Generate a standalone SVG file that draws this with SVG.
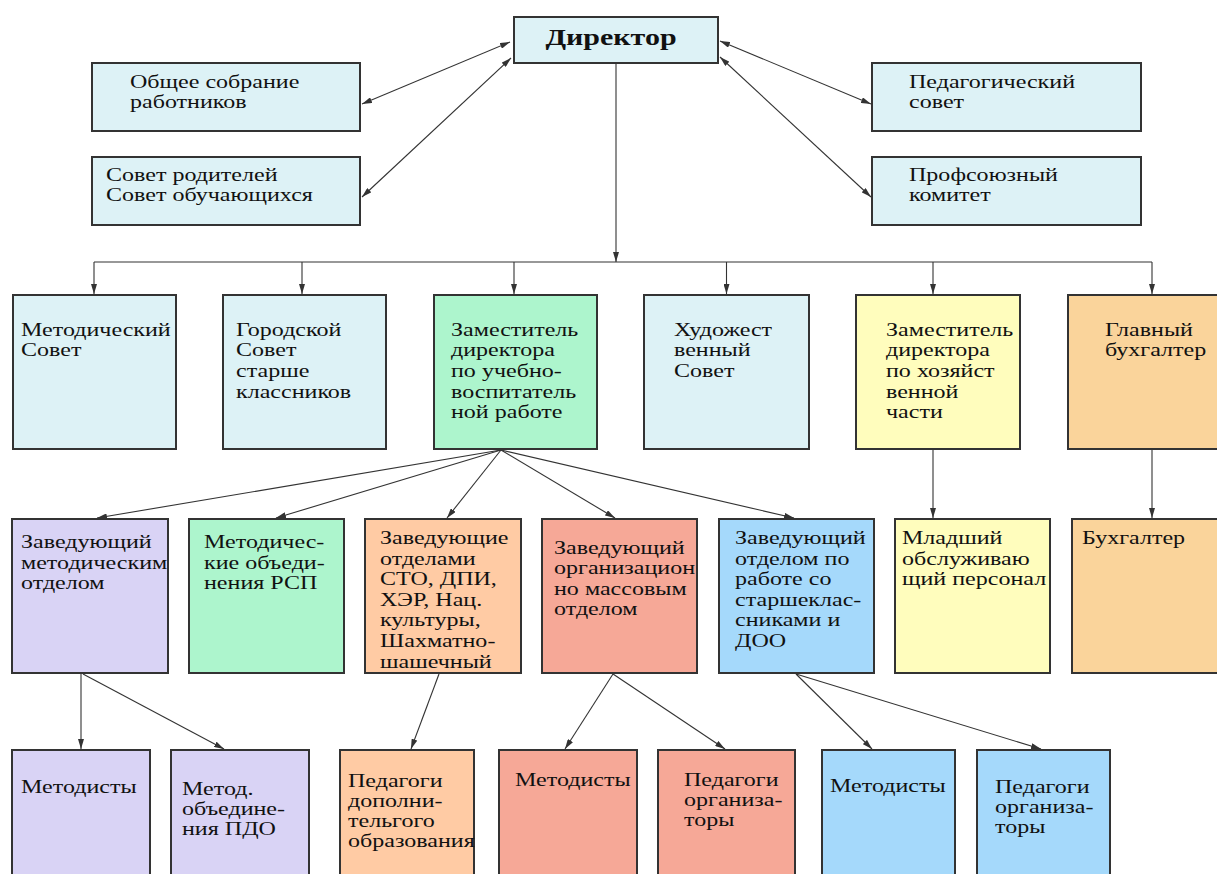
<svg xmlns="http://www.w3.org/2000/svg" width="1217" height="874" viewBox="0 0 1217 874">
<defs>
<style>
.b{stroke:#333;stroke-width:2}
.c0{fill:#DDF2F6}.cg{fill:#ADF5CD}.cl{fill:#D9D3F5}.cp{fill:#FFCBA4}.cs{fill:#F6A897}.cb{fill:#A5D9FB}.cy{fill:#FFFDBD}.co{fill:#FAD49B}
.t{font-family:"Liberation Serif","Times New Roman",serif;font-size:18.5px;fill:#111}
.h{font-family:"Liberation Serif","Times New Roman",serif;font-size:24px;font-weight:bold;fill:#111}
.l{stroke:#333;stroke-width:1.1;fill:none}
</style>
<marker id="ar" viewBox="0 0 10 6" refX="10" refY="3" markerWidth="10" markerHeight="6" markerUnits="userSpaceOnUse" orient="auto-start-reverse">
<path d="M0,0 L10,3 L0,6 z" fill="#333"/>
</marker>
</defs>
<rect width="1217" height="874" fill="#fff"/>

<g id="connectors">
<line class="l" x1="510" y1="42" x2="362" y2="104" marker-start="url(#ar)" marker-end="url(#ar)"/>
<line class="l" x1="511" y1="58" x2="362" y2="197" marker-start="url(#ar)" marker-end="url(#ar)"/>
<line class="l" x1="720" y1="41" x2="871" y2="104" marker-start="url(#ar)" marker-end="url(#ar)"/>
<line class="l" x1="720" y1="57" x2="871" y2="197" marker-start="url(#ar)" marker-end="url(#ar)"/>
<line class="l" x1="616" y1="64" x2="616" y2="262" marker-end="url(#ar)"/>
<line class="l" x1="94" y1="262" x2="1152" y2="262"/>
<line class="l" x1="94" y1="262" x2="94" y2="294" marker-end="url(#ar)"/>
<line class="l" x1="302" y1="262" x2="302" y2="294" marker-end="url(#ar)"/>
<line class="l" x1="514" y1="262" x2="514" y2="294" marker-end="url(#ar)"/>
<line class="l" x1="726.5" y1="262" x2="726.5" y2="294" marker-end="url(#ar)"/>
<line class="l" x1="933" y1="262" x2="933" y2="294" marker-end="url(#ar)"/>
<line class="l" x1="1152" y1="262" x2="1152" y2="294" marker-end="url(#ar)"/>
<line class="l" x1="501" y1="450" x2="97" y2="518" marker-end="url(#ar)"/>
<line class="l" x1="501" y1="450" x2="276" y2="518" marker-end="url(#ar)"/>
<line class="l" x1="501" y1="450" x2="447" y2="518" marker-end="url(#ar)"/>
<line class="l" x1="501" y1="450" x2="615" y2="518" marker-end="url(#ar)"/>
<line class="l" x1="501" y1="450" x2="794" y2="518" marker-end="url(#ar)"/>
<line class="l" x1="933" y1="450" x2="933" y2="518" marker-end="url(#ar)"/>
<line class="l" x1="1152" y1="450" x2="1152" y2="518" marker-end="url(#ar)"/>
<line class="l" x1="81" y1="674" x2="81" y2="749" marker-end="url(#ar)"/>
<line class="l" x1="83" y1="674" x2="224" y2="749" marker-end="url(#ar)"/>
<line class="l" x1="439" y1="674" x2="411" y2="749" marker-end="url(#ar)"/>
<line class="l" x1="613" y1="674" x2="565" y2="749" marker-end="url(#ar)"/>
<line class="l" x1="613" y1="674" x2="725" y2="749" marker-end="url(#ar)"/>
<line class="l" x1="796" y1="674" x2="872" y2="749" marker-end="url(#ar)"/>
<line class="l" x1="796" y1="674" x2="1041" y2="749" marker-end="url(#ar)"/>
</g>

<g id="director"><rect class="b c0" x="514" y="17" width="204" height="46"/>
<text class="h" text-anchor="middle" transform="translate(611,45) scale(1.25,1)">Директор</text></g>

<g id="obshchee"><rect class="b c0" x="92" y="63" width="268" height="68"/>
<text class="t" transform="translate(130,87.5) scale(1.3,1)"><tspan x="0" y="0">Общее собрание</tspan><tspan x="0" y="20.5">работников</tspan></text></g>

<g id="sovet-rod"><rect class="b c0" x="92" y="157" width="268" height="68"/>
<text class="t" transform="translate(106,181) scale(1.3,1)"><tspan x="0" y="0">Совет родителей</tspan><tspan x="0" y="20.5">Совет обучающихся</tspan></text></g>

<g id="ped-sovet"><rect class="b c0" x="872" y="63" width="269" height="68"/>
<text class="t" transform="translate(909,87.5) scale(1.3,1)"><tspan x="0" y="0">Педагогический</tspan><tspan x="0" y="20.5">совет</tspan></text></g>

<g id="profkom"><rect class="b c0" x="872" y="157" width="269" height="68"/>
<text class="t" transform="translate(909,181) scale(1.3,1)"><tspan x="0" y="0">Профсоюзный</tspan><tspan x="0" y="20.5">комитет</tspan></text></g>

<g id="metod-sovet"><rect class="b c0" x="13" y="295" width="163" height="154"/>
<text class="t" transform="translate(21,335.5) scale(1.3,1)"><tspan x="0" y="0">Методический</tspan><tspan x="0" y="20.7">Совет</tspan></text></g>

<g id="gor-sovet"><rect class="b c0" x="223" y="295" width="163" height="154"/>
<text class="t" transform="translate(236,335.5) scale(1.3,1)"><tspan x="0" y="0">Городской</tspan><tspan x="0" y="20.7">Совет</tspan><tspan x="0" y="41.4">старше</tspan><tspan x="0" y="62.1">классников</tspan></text></g>

<g id="zam-uvr"><rect class="b cg" x="434" y="295" width="163" height="154"/>
<text class="t" transform="translate(451,335.5) scale(1.3,1)"><tspan x="0" y="0">Заместитель</tspan><tspan x="0" y="20.7">директора</tspan><tspan x="0" y="41.4">по учебно-</tspan><tspan x="0" y="62.1">воспитатель</tspan><tspan x="0" y="82.8">ной работе</tspan></text></g>

<g id="hud-sovet"><rect class="b c0" x="644" y="295" width="165" height="154"/>
<text class="t" transform="translate(674,335.5) scale(1.3,1)"><tspan x="0" y="0">Художест</tspan><tspan x="0" y="20.7">венный</tspan><tspan x="0" y="41.4">Совет</tspan></text></g>

<g id="zam-ahch"><rect class="b cy" x="856" y="295" width="164" height="154"/>
<text class="t" transform="translate(886,335.5) scale(1.3,1)"><tspan x="0" y="0">Заместитель</tspan><tspan x="0" y="20.7">директора</tspan><tspan x="0" y="41.4">по хозяйст</tspan><tspan x="0" y="62.1">венной</tspan><tspan x="0" y="82.8">части</tspan></text></g>

<g id="glav-buh"><rect class="b co" x="1068" y="295" width="164" height="154"/>
<text class="t" transform="translate(1105,335.5) scale(1.3,1)"><tspan x="0" y="0">Главный</tspan><tspan x="0" y="20.7">бухгалтер</tspan></text></g>

<g id="zav-metod"><rect class="b cl" x="12" y="519" width="156" height="154"/>
<text class="t" transform="translate(21,548) scale(1.3,1)"><tspan x="0" y="0">Заведующий</tspan><tspan x="0" y="20.7">методическим</tspan><tspan x="0" y="41.4">отделом</tspan></text></g>

<g id="mo-rsp"><rect class="b cg" x="189" y="519" width="155" height="154"/>
<text class="t" transform="translate(204,548) scale(1.3,1)"><tspan x="0" y="0">Методичес-</tspan><tspan x="0" y="20.7">кие объеди-</tspan><tspan x="0" y="41.4">нения РСП</tspan></text></g>

<g id="zav-otdelami"><rect class="b cp" x="365" y="519" width="156" height="154"/>
<text class="t" transform="translate(380,544) scale(1.3,1)"><tspan x="0" y="0">Заведующие</tspan><tspan x="0" y="20.6">отделами</tspan><tspan x="0" y="41.2">СТО, ДПИ,</tspan><tspan x="0" y="61.8">ХЭР, Нац.</tspan><tspan x="0" y="82.4">культуры,</tspan><tspan x="0" y="103">Шахматно-</tspan><tspan x="0" y="123.6">шашечный</tspan></text></g>

<g id="zav-orgmass"><rect class="b cs" x="542" y="519" width="155" height="154"/>
<text class="t" transform="translate(554,554) scale(1.3,1)"><tspan x="0" y="0">Заведующий</tspan><tspan x="0" y="20.4">организацион</tspan><tspan x="0" y="40.8">но массовым</tspan><tspan x="0" y="61.2">отделом</tspan></text></g>

<g id="zav-starsh"><rect class="b cb" x="719" y="519" width="155" height="154"/>
<text class="t" transform="translate(735,544) scale(1.3,1)"><tspan x="0" y="0">Заведующий</tspan><tspan x="0" y="20.6">отделом по</tspan><tspan x="0" y="41.2">работе со</tspan><tspan x="0" y="61.8">старшеклас-</tspan><tspan x="0" y="82.4">сниками и</tspan><tspan x="0" y="103">ДОО</tspan></text></g>

<g id="mladshiy"><rect class="b cy" x="895" y="519" width="155" height="154"/>
<text class="t" transform="translate(902,544) scale(1.3,1)"><tspan x="0" y="0">Младший</tspan><tspan x="0" y="20.6">обслуживаю</tspan><tspan x="0" y="41.2">щий персонал</tspan></text></g>

<g id="buh"><rect class="b co" x="1072" y="519" width="156" height="154"/>
<text class="t" transform="translate(1082,544) scale(1.3,1)">Бухгалтер</text></g>

<g id="metodisty-1"><rect class="b cl" x="12" y="750" width="138" height="140"/>
<text class="t" transform="translate(21,793) scale(1.3,1)">Методисты</text></g>

<g id="mo-pdo"><rect class="b cl" x="171" y="750" width="138" height="140"/>
<text class="t" transform="translate(182,795) scale(1.3,1)"><tspan x="0" y="0">Метод.</tspan><tspan x="0" y="20">объедине-</tspan><tspan x="0" y="40">ния ПДО</tspan></text></g>

<g id="ped-dop"><rect class="b cp" x="340" y="750" width="134" height="140"/>
<text class="t" transform="translate(348,787) scale(1.3,1)"><tspan x="0" y="0">Педагоги</tspan><tspan x="0" y="20">дополни-</tspan><tspan x="0" y="40">тельгого</tspan><tspan x="0" y="60">образования</tspan></text></g>

<g id="metodisty-2"><rect class="b cs" x="499" y="750" width="138" height="140"/>
<text class="t" transform="translate(515,786) scale(1.3,1)">Методисты</text></g>

<g id="ped-org-1"><rect class="b cs" x="658" y="750" width="137" height="140"/>
<text class="t" transform="translate(684,786) scale(1.3,1)"><tspan x="0" y="0">Педагоги</tspan><tspan x="0" y="20">организа-</tspan><tspan x="0" y="40">торы</tspan></text></g>

<g id="metodisty-3"><rect class="b cb" x="822" y="750" width="133" height="140"/>
<text class="t" transform="translate(830,792) scale(1.3,1)">Методисты</text></g>

<g id="ped-org-2"><rect class="b cb" x="977" y="750" width="133" height="140"/>
<text class="t" transform="translate(995,793) scale(1.3,1)"><tspan x="0" y="0">Педагоги</tspan><tspan x="0" y="20">организа-</tspan><tspan x="0" y="40">торы</tspan></text></g>
</svg>
